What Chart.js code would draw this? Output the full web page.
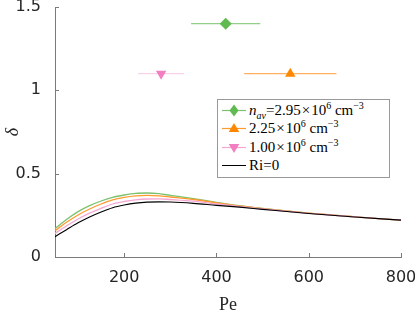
<!DOCTYPE html>
<html>
<head>
<meta charset="utf-8">
<script src="https://cdn.jsdelivr.net/npm/chart.js@4.4.1/dist/chart.umd.min.js"></script>
<style>
html, body { margin: 0; padding: 0; background: #fff; }
#wrap { position: relative; width: 415px; height: 310px; }
#legend {
    position: absolute; left: 217px; top: 99px; width: 171px; height: 77px;
    border: 1px solid #999; background: #fff;
    font-family: "Liberation Serif", serif; font-size: 15px; color: #000;
}
#legend .row { position: relative; height: 18.4px; }
#legend .row:first-child { margin-top: 1px; }
#legend svg { position: absolute; left: 3px; top: 0; }
#legend span { position: absolute; left: 31px; top: 0; line-height: 18.4px; white-space: nowrap; }
#legend sup, #legend sub { font-size: 10px; line-height: 0; }
#legend .x { margin: 0 1px; }
</style>
</head>
<body>
<div id="wrap">
  <canvas id="c" width="415" height="310"></canvas>
  <div id="legend">
    <div class="row">
      <svg width="26" height="18"><line x1="1" y1="9.5" x2="25" y2="9.5" stroke="#7cc26e" stroke-width="1.2"/><polygon points="13,3.5 17.5,9.5 13,15.5 8.5,9.5" fill="#5fba4f"/></svg>
      <span><i>n</i><sub><i>av</i></sub>=2.95<span class="x" style="position:static">×</span>10<sup>6</sup> cm<sup>−3</sup></span>
    </div>
    <div class="row">
      <svg width="26" height="18"><line x1="1" y1="9.5" x2="25" y2="9.5" stroke="#ff9a30" stroke-width="1.2"/><polygon points="13,4 18.3,13 7.7,13" fill="#ff8800"/></svg>
      <span>2.25<span class="x" style="position:static">×</span>10<sup>6</sup> cm<sup>−3</sup></span>
    </div>
    <div class="row">
      <svg width="26" height="18"><line x1="1" y1="9.5" x2="25" y2="9.5" stroke="#f7a6d2" stroke-width="1.2"/><polygon points="7.7,6 18.3,6 13,15" fill="#f27fc0"/></svg>
      <span>1.00<span class="x" style="position:static">×</span>10<sup>6</sup> cm<sup>−3</sup></span>
    </div>
    <div class="row">
      <svg width="26" height="18"><line x1="1" y1="9.5" x2="25" y2="9.5" stroke="#000" stroke-width="1"/></svg>
      <span>Ri=0</span>
    </div>
  </div>
</div>
<script>
// Péclet number grid for the model curves
const pe = [50, 75, 100, 125, 150, 175, 200, 225, 250, 275, 300, 350, 400, 450, 500, 600, 700, 800];
// delta for n_av = 2.95e6, 2.25e6, 1.00e6 cm^-3 and Ri = 0
const deltaHigh = [0.170, 0.225, 0.272, 0.308, 0.336, 0.358, 0.372, 0.382, 0.384, 0.380, 0.370, 0.350, 0.328, 0.308, 0.291, 0.263, 0.241, 0.221];
const deltaMid  = [0.158, 0.208, 0.252, 0.288, 0.318, 0.343, 0.358, 0.367, 0.370, 0.367, 0.360, 0.345, 0.325, 0.306, 0.290, 0.263, 0.241, 0.221];
const deltaLow  = [0.142, 0.186, 0.228, 0.263, 0.292, 0.318, 0.333, 0.343, 0.348, 0.349, 0.345, 0.335, 0.318, 0.303, 0.288, 0.262, 0.241, 0.221];
const deltaRi0  = [0.122, 0.164, 0.205, 0.240, 0.270, 0.296, 0.312, 0.323, 0.329, 0.331, 0.330, 0.322, 0.310, 0.299, 0.286, 0.261, 0.240, 0.221];

// measured points (high, mid, low density) with Pe ranges
const measPe    = [420, 560, 280];
const measDelta = [1.40, 1.10, 1.10];
const measPeLo  = [345, 460, 230];
const measPeHi  = [495, 660, 330];

const xTicks = [200, 400, 600, 800];
const yTicks = [0, 0.5, 1, 1.5];

const lineColors   = ['#7cc26e', '#ff9a30', '#f7a6d2'];
const markerColors = ['#5fba4f', '#ff8800', '#f27fc0'];
const barColors    = ['#93cf88', '#ffb061', '#fbd3e8'];
const markerStyles = ['rectRot', 'triangle', 'triangle'];
const markerRot    = [0, 0, 180];
const markerSize   = [6, 6, 6];

const datasets = [];

// markers on top, then horizontal bars, then curves
measPe.forEach((p, i) => {
    datasets.push({
        type: 'scatter',
        data: [{ x: p, y: measDelta[i] }],
        pointStyle: markerStyles[i],
        rotation: markerRot[i],
        radius: markerSize[i],
        backgroundColor: markerColors[i],
        borderColor: markerColors[i],
        borderWidth: 0,
        order: 0
    });
    datasets.push({
        type: 'line',
        data: [{ x: measPeLo[i], y: measDelta[i] }, { x: measPeHi[i], y: measDelta[i] }],
        borderColor: barColors[i],
        borderWidth: 1.2,
        pointRadius: 0,
        order: 1
    });
});

const curves = [deltaRi0, deltaLow, deltaMid, deltaHigh];
const curveColors = ['#000000', lineColors[2], lineColors[1], lineColors[0]];
curves.forEach((vals, i) => {
    datasets.push({
        type: 'line',
        data: pe.map((p, k) => ({ x: p, y: vals[k] })),
        borderColor: curveColors[i],
        borderWidth: i === 0 ? 1.1 : 1.3,
        pointRadius: 0,
        cubicInterpolationMode: 'monotone',
        order: 2 + i
    });
});

// MATLAB style inward tick marks
const inwardTicks = {
    id: 'inwardTicks',
    afterDraw(chart) {
        const { ctx, chartArea, scales } = chart;
        ctx.save();
        ctx.strokeStyle = '#7a7a7a';
        ctx.lineWidth = 1;
        ctx.beginPath();
        xTicks.forEach(v => {
            const x = Math.round(scales.x.getPixelForValue(v)) + 0.5;
            ctx.moveTo(x, chartArea.bottom);
            ctx.lineTo(x, chartArea.bottom - 4);
        });
        yTicks.forEach(v => {
            const y = Math.round(scales.y.getPixelForValue(v)) + 0.5;
            ctx.moveTo(chartArea.left, y);
            ctx.lineTo(chartArea.left + 4, y);
        });
        ctx.stroke();
        ctx.restore();
    }
};

new Chart(document.getElementById('c'), {
    type: 'line',
    data: { datasets },
    options: {
        responsive: false,
        animation: false,
        events: [],
        layout: { padding: { left: 0, right: 14, top: 7, bottom: 0 } },
        plugins: { legend: { display: false }, tooltip: { enabled: false } },
        scales: {
            x: {
                type: 'linear',
                min: 50,
                max: 800,
                afterBuildTicks: s => { s.ticks = xTicks.map(v => ({ value: v })); },
                afterFit: s => { s.height = 53; s.paddingLeft = 0; s.paddingRight = 0; },
                grid: { display: false },
                border: { color: '#7a7a7a', width: 1 },
                ticks: {
                    color: '#262626',
                    padding: 3,
                    maxRotation: 0,
                    font: { family: 'DejaVu Sans', size: 16 }
                },
                title: {
                    display: true,
                    text: 'Pe',
                    color: '#262626',
                    padding: { top: 0, bottom: -2 },
                    font: { family: 'Liberation Serif', size: 18, lineHeight: 0.8 }
                }
            },
            y: {
                type: 'linear',
                min: 0,
                max: 1.5,
                afterBuildTicks: s => { s.ticks = yTicks.map(v => ({ value: v })); },
                afterFit: s => { s.width = 55; s.paddingTop = 0; s.paddingBottom = 0; },
                grid: { display: false },
                border: { color: '#7a7a7a', width: 1 },
                ticks: {
                    color: '#262626',
                    padding: 6,
                    callback: v => String(v),
                    font: { family: 'DejaVu Sans', size: 16 }
                },
                title: {
                    display: true,
                    text: 'δ',
                    color: '#262626',
                    padding: 4,
                    font: { family: 'Liberation Serif', size: 18, style: 'italic', lineHeight: 1 }
                }
            }
        }
    },
    plugins: [inwardTicks]
});
</script>
</body>
</html>
